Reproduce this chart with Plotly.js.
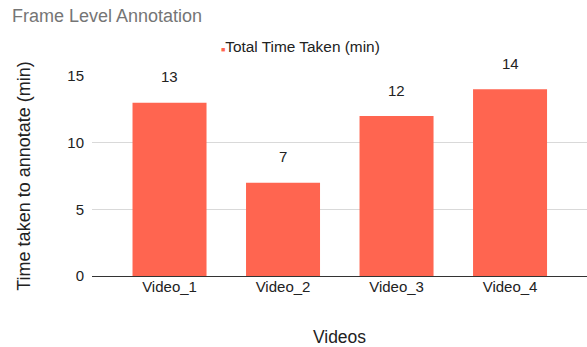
<!DOCTYPE html>
<html>
<head>
<meta charset="utf-8">
<script src="https://cdn.plot.ly/plotly-3.0.1.min.js"></script>
<style>
  html, body { margin: 0; padding: 0; background: #fff; }
  #chart { width: 587px; height: 347px; }
</style>
</head>
<body>
<div id="chart"></div>
<script>
// Annotation time per video
const videos = ["Video_1", "Video_2", "Video_3", "Video_4"];
const minutes = [13, 7, 12, 14];
const seriesName = "Total Time Taken (min)";
const yTicks = [0, 5, 10, 15];

const barColor = "#ff6550";
const font = "'Liberation Sans', Arial, sans-serif";
const plotLeft = 92, plotWidth = 495, plotHeight = 200;

const bar = {
  type: "bar",
  x: videos,
  y: minutes,
  width: 0.652,
  marker: { color: barColor },
  showlegend: false,
  hoverinfo: "x+y"
};

// value labels sitting above each bar
const valueLabels = videos.map((v, i) => ({
  x: v, y: minutes[i], xref: "x", yref: "y",
  text: String(minutes[i]), showarrow: false,
  yshift: 26, font: { family: font, size: 15, color: "#222" }
}));

const layout = {
  width: 587, height: 347,
  margin: { l: plotLeft, r: 0, t: 76, b: 71 },
  paper_bgcolor: "#fff", plot_bgcolor: "#fff",
  font: { family: font, color: "#222" },
  showlegend: false,
  title: {
    text: "Frame Level Annotation",
    x: 12 / 587, xanchor: "left", xref: "container",
    y: 1 - 16 / 347, yanchor: "middle", yref: "container",
    font: { family: font, size: 18, color: "#757575" }
  },
  xaxis: {
    type: "category",
    range: [-0.683, 3.678],
    showgrid: false, zeroline: false,
    showline: false, ticks: "",
    tickfont: { family: font, size: 15, color: "#222" },
    title: { text: "Videos", standoff: 36, font: { family: font, size: 17.5, color: "#222" } }
  },
  yaxis: {
    range: [0, 15],
    tickvals: yTicks,
    ticktext: yTicks.map(String),
    showgrid: true, gridcolor: "#d9d9d9", gridwidth: 1,
    zeroline: true, zerolinecolor: "#333", zerolinewidth: 1,
    showline: false, ticks: "",
    ticklabelstandoff: 7,
    tickfont: { family: font, size: 15, color: "#222" },
    title: { text: "Time taken to annotate (min)", standoff: 32, font: { family: font, size: 18, color: "#222" } }
  },
  annotations: valueLabels.concat([{
    xref: "paper", yref: "paper",
    x: (219 - plotLeft) / plotWidth, y: 1 + 30 / plotHeight,
    xanchor: "left", yanchor: "middle", showarrow: false,
    text: "<span style='color:" + barColor + ";font-size:7px'>■</span>" + seriesName,
    font: { family: font, size: 15.4, color: "#222" }
  }])
};

Plotly.newPlot("chart", [bar], layout, { displayModeBar: false, staticPlot: true });
</script>
</body>
</html>
